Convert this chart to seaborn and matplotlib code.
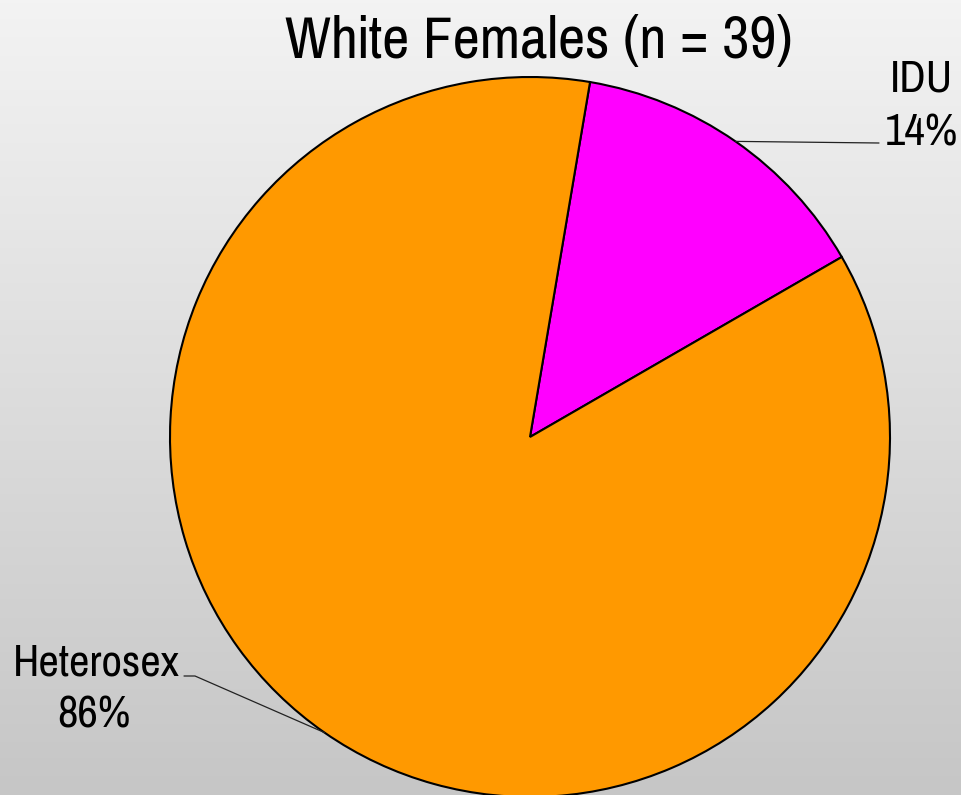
import numpy as np
import matplotlib
matplotlib.use("Agg")
import matplotlib.pyplot as plt
import seaborn as sns
from matplotlib import font_manager
from matplotlib.colors import LinearSegmentedColormap

categories = ["IDU", "Heterosex"]
values = [14, 86]
pct_labels = ["14%", "86%"]
title = "White Females (n = 39)"

sns.set_theme(style="white")
names = {f.name for f in font_manager.fontManager.ttflist}
fam = [n for n in ["Pragati Narrow", "Archivo Narrow", "Liberation Sans", "DejaVu Sans"] if n in names]
plt.rcParams["font.family"] = fam

W, H = 961, 795
fig = plt.figure(figsize=(W / 100, H / 100), dpi=100)

# gradient background
bg = fig.add_axes([0, 0, 1, 1], zorder=0)
grad = np.linspace(0, 1, 256).reshape(-1, 1)
cmap = LinearSegmentedColormap.from_list("bg", ["#f3f3f3", "#c6c6c6"])
bg.imshow(grad, aspect="auto", cmap=cmap, extent=[0, 1, 0, 1])
bg.axis("off")

ax = fig.add_axes([0, 0, 1, 1], zorder=1)
ax.patch.set_alpha(0)
cx, cy, r = 530, H - 437, 360
startangle = 80.4
wedges, _ = ax.pie(values, colors=["#FF00FF", "#FF9900"], startangle=startangle,
                   counterclock=False, center=(cx, cy), radius=r,
                   wedgeprops=dict(edgecolor="black", linewidth=1.5),
                   frame=True)
ax.set_xlim(0, W)
ax.set_ylim(0, H)
ax.set_aspect("auto")
ax.axis("off")

ax.text(539, H - 58, title, ha="center", va="baseline", fontsize=46.5, color="black")

tc = "black"
fs = 35
for w, cat, pl in zip(wedges, categories, pct_labels):
    mid = np.deg2rad((w.theta1 + w.theta2) / 2)
    ex, ey = cx + r * np.cos(mid), cy + r * np.sin(mid)
    if cat == "IDU":
        ax.plot([ex, 879], [ey, H - 143], color="#222222", lw=0.9)
        ax.text(921, H - 92, cat, ha="center", va="baseline", fontsize=fs, color=tc)
        ax.text(921, H - 145, pl, ha="center", va="baseline", fontsize=fs, color=tc)
    else:
        ax.plot([ex, 195, 184], [ey, H - 676, H - 676], color="#222222", lw=0.9)
        ax.text(96, H - 675, cat, ha="center", va="baseline", fontsize=fs, color=tc)
        ax.text(94, H - 727, pl, ha="center", va="baseline", fontsize=fs, color=tc)

fig.savefig("out.png", dpi=100)
